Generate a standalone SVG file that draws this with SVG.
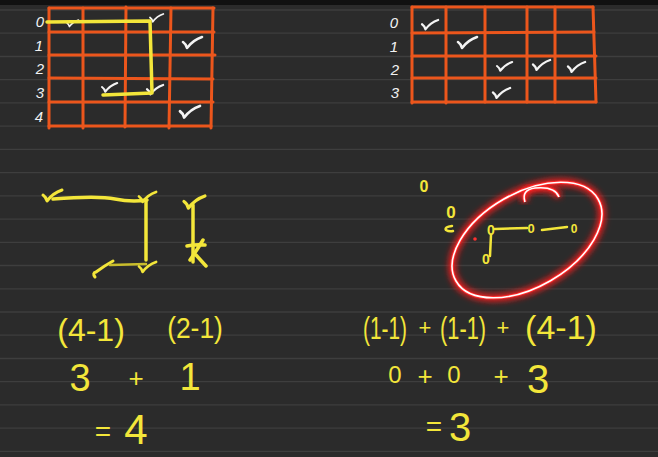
<svg xmlns="http://www.w3.org/2000/svg" xmlns:xlink="http://www.w3.org/1999/xlink" width="658" height="457" viewBox="0 0 658 457">
<defs>
<style>
.rule{stroke:#3e3e3e;stroke-width:1.3}
.grid{stroke:#ec561c;stroke-width:3;stroke-linecap:round;fill:none}
.chk{stroke:#f4f4f4;stroke-width:2.6;stroke-linecap:round;stroke-linejoin:round;fill:none}
.ychk{stroke:#f3e63a;stroke-width:3;stroke-linecap:round;stroke-linejoin:round;fill:none}
.yl{stroke:#f3e63a;stroke-width:3.5;stroke-linecap:round;stroke-linejoin:round;fill:none}
.lbl{fill:#f2f2f2;font-family:"Liberation Sans",Arial,sans-serif;font-style:italic;font-size:15px;text-anchor:middle}
.yt{fill:#f3e63a;font-family:"Liberation Sans",Arial,sans-serif;text-anchor:middle}
.glow{stroke:#ff1a1a;stroke-width:7;fill:none;filter:url(#blur)}
.red{stroke:#ff2a2a;stroke-width:3.5;fill:none}
.core{stroke:#ffffff;stroke-width:1.6;fill:none}
</style>
<filter id="blur" x="-20%" y="-20%" width="140%" height="140%"><feGaussianBlur stdDeviation="3"/></filter>
<path id="ck" d="M0,5 Q3,7 4,11 Q10,3 19,0"/>
</defs>
<rect width="658" height="457" fill="#2b2b2b"/>
<rect width="658" height="5" fill="#111111"/>
<g id="rules">
<line class="rule" x1="0" y1="10" x2="658" y2="10"/>
<line class="rule" x1="0" y1="33.2" x2="658" y2="33.2"/>
<line class="rule" x1="0" y1="56.5" x2="658" y2="56.5"/>
<line class="rule" x1="0" y1="79.7" x2="658" y2="79.7"/>
<line class="rule" x1="0" y1="102.9" x2="658" y2="102.9"/>
<line class="rule" x1="0" y1="126.2" x2="658" y2="126.2"/>
<line class="rule" x1="0" y1="149.4" x2="658" y2="149.4"/>
<line class="rule" x1="0" y1="172.6" x2="658" y2="172.6"/>
<line class="rule" x1="0" y1="195.8" x2="658" y2="195.8"/>
<line class="rule" x1="0" y1="219.1" x2="658" y2="219.1"/>
<line class="rule" x1="0" y1="242.3" x2="658" y2="242.3"/>
<line class="rule" x1="0" y1="265.5" x2="658" y2="265.5"/>
<line class="rule" x1="0" y1="288.8" x2="658" y2="288.8"/>
<line class="rule" x1="0" y1="312" x2="658" y2="312"/>
<line class="rule" x1="0" y1="335.2" x2="658" y2="335.2"/>
<line class="rule" x1="0" y1="358.5" x2="658" y2="358.5"/>
<line class="rule" x1="0" y1="381.7" x2="658" y2="381.7"/>
<line class="rule" x1="0" y1="404.9" x2="658" y2="404.9"/>
<line class="rule" x1="0" y1="428.1" x2="658" y2="428.1"/>
<line class="rule" x1="0" y1="451.4" x2="658" y2="451.4"/>
</g>

<g id="left-grid">
<path class="grid" d="M49,8 L49,128 M83,8 L83,128 M126,7 L125,127 M171,8 L169,128 M213,8 L211,128"/>
<path class="grid" d="M49,8 L214,8 M49,32 L214,32 M49,55 L215,55 M49,78 L213,79 M49,102 L213,102 M49,126 L211,126"/>
<text class="lbl" x="40" y="27">0</text>
<text class="lbl" x="39" y="51">1</text>
<text class="lbl" x="40" y="74">2</text>
<text class="lbl" x="40" y="98">3</text>
<text class="lbl" x="39" y="122">4</text>
<use href="#ck" class="chk" transform="translate(67,20) scale(0.6)"/>
<use href="#ck" class="chk" transform="translate(150,14) scale(0.7)"/>
<use href="#ck" class="chk" transform="translate(183,37) scale(1)"/>
<use href="#ck" class="chk" transform="translate(102,83) scale(0.8)"/>
<use href="#ck" class="chk" transform="translate(147,85) scale(0.85)"/>
<use href="#ck" class="chk" transform="translate(180,106) scale(1.05)"/>
<path class="yl" d="M47,22 L150,21 L152,93 L103,95"/>
</g>

<g id="right-grid">
<path class="grid" d="M412,7 L412,103 M446,7 L446,103 M485,7 L485,102 M527,7 L527,102 M555,7 L555,102 M593,7 L596,102"/>
<path class="grid" d="M412,7 L593,7 M412,33 L594,32 M412,56 L596,56 M412,78 L596,78 M412,102 L596,102"/>
<text class="lbl" x="394" y="28">0</text>
<text class="lbl" x="394" y="52">1</text>
<text class="lbl" x="395" y="75">2</text>
<text class="lbl" x="395" y="98">3</text>
<use href="#ck" class="chk" transform="translate(422,20) scale(0.85)"/>
<use href="#ck" class="chk" transform="translate(458,37) scale(1)"/>
<use href="#ck" class="chk" transform="translate(497,62) scale(0.8)"/>
<use href="#ck" class="chk" transform="translate(533,60) scale(0.9)"/>
<use href="#ck" class="chk" transform="translate(568,62) scale(0.9)"/>
<use href="#ck" class="chk" transform="translate(493,88) scale(0.9)"/>
</g>

<g id="left-sketch">
<use href="#ck" class="ychk" transform="translate(43,190) scale(1)"/>
<use href="#ck" class="ychk" transform="translate(139,192) scale(0.9)"/>
<path class="yl" d="M53,199 C80,197 100,196 115,199 S140,201 147,200"/>
<path class="yl" d="M146,200 L146,260"/>
<path class="ychk" d="M95,277 Q92,273 96,272 Q104,266 113,261"/>
<path class="yl" style="stroke:#c9bd2c;stroke-width:2.5" d="M110,265 L146,264"/>
<use href="#ck" class="ychk" transform="translate(139,262) scale(0.9)"/>
<use href="#ck" class="ychk" transform="translate(184,196) scale(1.1)"/>
<path class="yl" d="M193,205 L193,262"/>
<path class="yl" d="M187,246 Q196,244 205,245 M190,260 Q197,250 203,240 M196,255 L206,266"/>
</g>

<g id="right-sketch">
<ellipse class="glow" cx="527" cy="240" rx="82" ry="47" transform="rotate(-30 527 240)"/>
<path class="glow" d="M525,202 Q521,190 535,188 Q555,186 559,197"/>
<ellipse class="red" cx="527" cy="240" rx="82" ry="47" transform="rotate(-30 527 240)"/>
<path class="red" d="M525,202 Q521,190 535,188 Q555,186 559,197"/>
<ellipse class="core" cx="527" cy="240" rx="82" ry="47" transform="rotate(-30 527 240)"/>
<path class="core" d="M525,202 Q521,190 535,188 Q555,186 559,197"/>
<circle cx="475" cy="239" r="1.8" fill="#ff3030"/>
<text class="yt" x="424" y="192" font-size="16" font-weight="bold">0</text>
<text class="yt" x="451" y="218" font-size="17" font-weight="bold">0</text>
<path class="yl" style="stroke-width:2.5" d="M452,226 Q444,227 446,230 Q449,232 453,231"/>
<text class="yt" x="491" y="235" font-size="14" font-weight="bold">0</text>
<text class="yt" x="531" y="233" font-size="13" font-weight="bold">0</text>
<text class="yt" x="574" y="233" font-size="12" font-weight="bold">0</text>
<text class="yt" x="486" y="264" font-size="14" font-weight="bold">0</text>
<path class="yl" style="stroke-width:2.5" d="M495,229 L527,228 M542,230 L567,227 M491,235 L490,256"/>
</g>

<g id="left-formula">
<text class="yt" x="91" y="341" font-size="32">(4-1)</text>
<text class="yt" transform="translate(195,338) scale(0.88,1)" font-size="30">(2-1)</text>
<text class="yt" x="80" y="391" font-size="38">3</text>
<text class="yt" x="136" y="387" font-size="26">+</text>
<text class="yt" x="190" y="390" font-size="38">1</text>
<text class="yt" x="103" y="441" font-size="28">=</text>
<text class="yt" x="136" y="444" font-size="42">4</text>
</g>

<g id="right-formula">
<text class="yt" transform="translate(385,339) scale(0.65,1)" font-size="32">(1-1)</text>
<text class="yt" x="425" y="335" font-size="22">+</text>
<text class="yt" transform="translate(463,339) scale(0.68,1)" font-size="32">(1-1)</text>
<text class="yt" x="503" y="335" font-size="22">+</text>
<text class="yt" x="561" y="339" font-size="34">(4-1)</text>
<text class="yt" x="395" y="383" font-size="24">0</text>
<text class="yt" x="425" y="385" font-size="26">+</text>
<text class="yt" x="454" y="383" font-size="24">0</text>
<text class="yt" x="501" y="385" font-size="26">+</text>
<text class="yt" x="538" y="393" font-size="40">3</text>
<text class="yt" x="434" y="436" font-size="28">=</text>
<text class="yt" x="460" y="441" font-size="40">3</text>
</g>
</svg>
